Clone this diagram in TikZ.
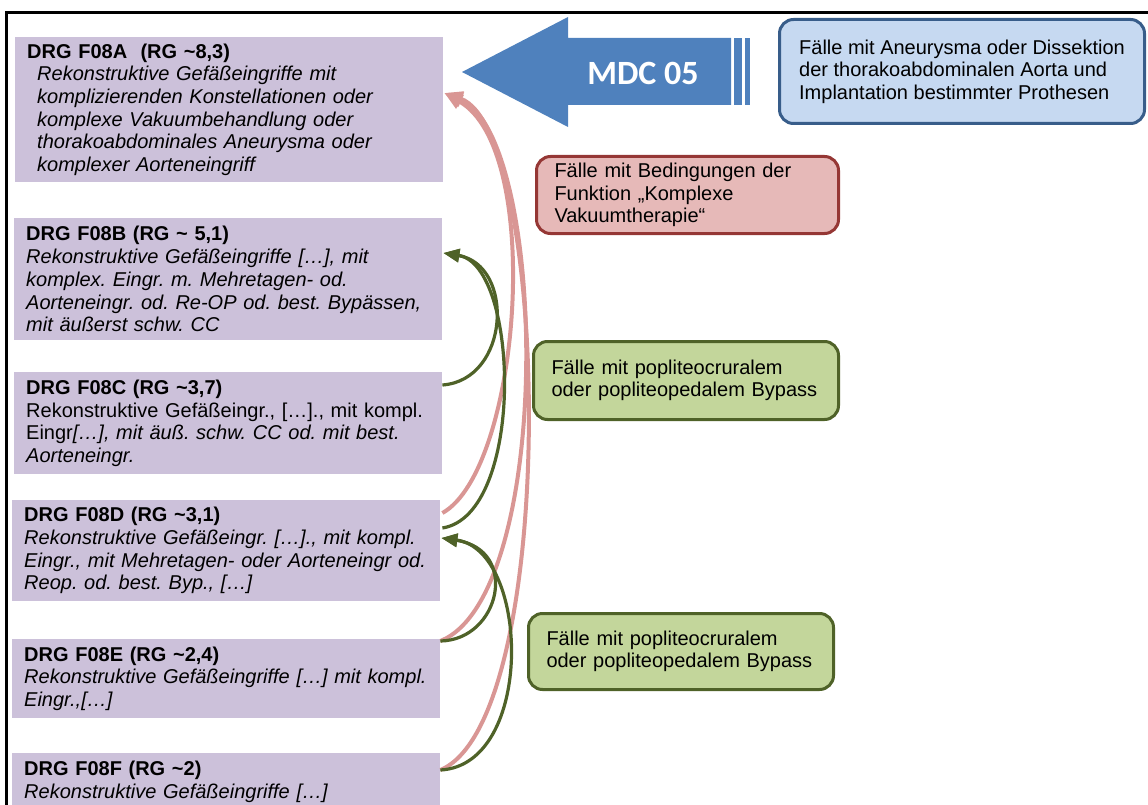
\documentclass[tikz,border=0pt]{standalone}
\usepackage{fontspec}
\setmainfont{Liberation Sans}
\newfontfamily\mdcfont{Carlito}
\usetikzlibrary{arrows.meta,calc}
\frenchspacing
\definecolor{drgfill}{RGB}{204,193,218}
\definecolor{mdcblue}{RGB}{79,129,189}
\definecolor{aortafill}{RGB}{198,217,241}
\definecolor{aortaline}{RGB}{56,93,138}
\definecolor{vacfill}{RGB}{230,185,184}
\definecolor{vacline}{RGB}{149,55,53}
\definecolor{popfill}{RGB}{195,214,155}
\definecolor{popline}{RGB}{79,98,40}
\definecolor{pinkline}{RGB}{217,150,148}
\tikzset{
  drgbox/.style={fill=drgfill,anchor=north west,inner xsep=12pt,inner ysep=2pt,
    text width=404pt,align=left,minimum height=#1,font=\fontsize{20}{22.7}\selectfont},
  infobox/.style={rounded corners=14pt,line width=3pt,anchor=north west,inner xsep=18pt,
    align=left,font=\fontsize{20}{22.5}\selectfont},
  pinkarc/.style={pinkline,line width=4pt,-{Triangle[length=18pt,width=15pt]}},
  greenarc/.style={popline,line width=3.2pt,-{Triangle[length=16pt,width=13pt]}}
}
\begin{document}
\begin{tikzpicture}[x=1pt,y=-1pt]
	\useasboundingbox (0,0) rectangle (1148,805);
	\draw[line width=3pt] (6,812) -- (6,12.5) -- (1152,12.5);
	\node[drgbox=145pt] (drgA) at (15,37) {\textbf{DRG F08A\ \ (RG \textasciitilde8,3)}\\
		\itshape\hspace*{10pt}Rekonstruktive Gefäßeingriffe mit\\
		\hspace*{10pt}komplizierenden Konstellationen oder\\
		\hspace*{10pt}komplexe Vakuumbehandlung oder\\
		\hspace*{10pt}thorakoabdominales Aneurysma oder\\
		\hspace*{10pt}komplexer Aorteneingriff};
	\node[drgbox=122pt] (drgB) at (14,218) {\textbf{DRG F08B (RG \textasciitilde\ 5,1)}\\
		\itshape Rekonstruktive Gefäßeingriffe […], mit\\
		komplex. Eingr. m. Mehretagen- od.\\
		Aorteneingr. od. Re-OP od. best. Bypässen,\\
		mit äußerst schw. CC};
	\node[drgbox=102pt] (drgC) at (14,372) {\textbf{DRG F08C (RG \textasciitilde3,7)}\\
		Rekonstruktive Gefäßeingr., […]., mit kompl.\\
		Eingr\textit{[…], mit äuß. schw. CC od. mit best.}\\
		\textit{Aorteneingr.}};
	\node[drgbox=101pt] (drgD) at (12,500) {\textbf{DRG F08D (RG \textasciitilde3,1)}\\
		\itshape Rekonstruktive Gefäßeingr. […]., mit kompl.\\
		Eingr., mit Mehretagen- oder Aorteneingr od.\\
		Reop. od. best. Byp., […]};
	\node[drgbox=79pt] (drgE) at (12,639) {\textbf{DRG F08E (RG \textasciitilde2,4)}\\
		\itshape Rekonstruktive Gefäßeingriffe […] mit kompl.\\
		Eingr.,[…]};
	\node[drgbox=57pt] (drgF) at (12,753) {\textbf{DRG F08F (RG \textasciitilde2)}\\
		\itshape Rekonstruktive Gefäßeingriffe […]};
	\fill[mdcblue] (462,72) -- (568,17) -- (568,38) -- (731,38) -- (731,105) -- (568,105) -- (568,127) -- cycle;
	\fill[mdcblue] (734,38) rectangle (742,105);
	\fill[mdcblue] (745,38) rectangle (750,105);
	\node[text=white,font=\mdcfont\bfseries\fontsize{34}{34}\selectfont] (mdc) at (643,73) {MDC 05};
	\node[infobox,draw=aortaline,fill=aortafill,inner xsep=4pt,minimum width=365pt,minimum height=104pt] (infoAorta) at (778,18)
		{Fälle mit Aneurysma oder Dissektion\\der thorakoabdominalen Aorta und\\Implantation bestimmter Prothesen};
	\node[infobox,draw=vacline,fill=vacfill,text width=266pt,minimum height=77pt] (infoVac) at (535,155)
		{Fälle mit Bedingungen der\\Funktion „Komplexe\\Vakuumtherapie“};
	\node[infobox,draw=popline,fill=popfill,text width=269pt,minimum height=78pt] (infoPopA) at (532,340)
		{Fälle mit popliteocruralem\\oder popliteopedalem Bypass};
	\node[infobox,draw=popline,fill=popfill,text width=269pt,minimum height=76pt] (infoPopB) at (527,612)
		{Fälle mit popliteocruralem\\oder popliteopedalem Bypass};
	\coordinate (tipA) at ($(drgA.north east)+(1,56)$);
	\coordinate (tipB) at ($(drgB.north east)+(1,35)$);
	\coordinate (tipD) at ($(drgD.north east)+(1,38)$);
	\coordinate (outC) at ($(drgC.north east)+(0,13)$);
	\coordinate (outDp) at ($(drgD.north east)+(2,13)$);
	\coordinate (outDg) at ($(drgD.north east)+(2,28)$);
	\coordinate (outE) at ($(drgE.north east)+(0,2)$);
	\coordinate (outF) at ($(drgF.north east)+(0,17)$);
	\draw[pinkarc] (outDp) .. controls (520,470) and (545,150) .. (tipA);
	\draw[pinkarc] (outE) .. controls (555,595) and (548,135) .. (tipA);
	\draw[pinkarc] (outF) .. controls (560,720) and (550,130) .. (tipA);
	\draw[greenarc] (outC) .. controls (510,380) and (515,265) .. (tipB);
	\draw[greenarc] (outDg) .. controls (525,515) and (520,265) .. (tipB);
	\draw[greenarc] (outE) .. controls (500,640) and (520,550) .. (tipD);
	\draw[greenarc] (outF) .. controls (535,765) and (530,550) .. (tipD);
\end{tikzpicture}
\end{document}
